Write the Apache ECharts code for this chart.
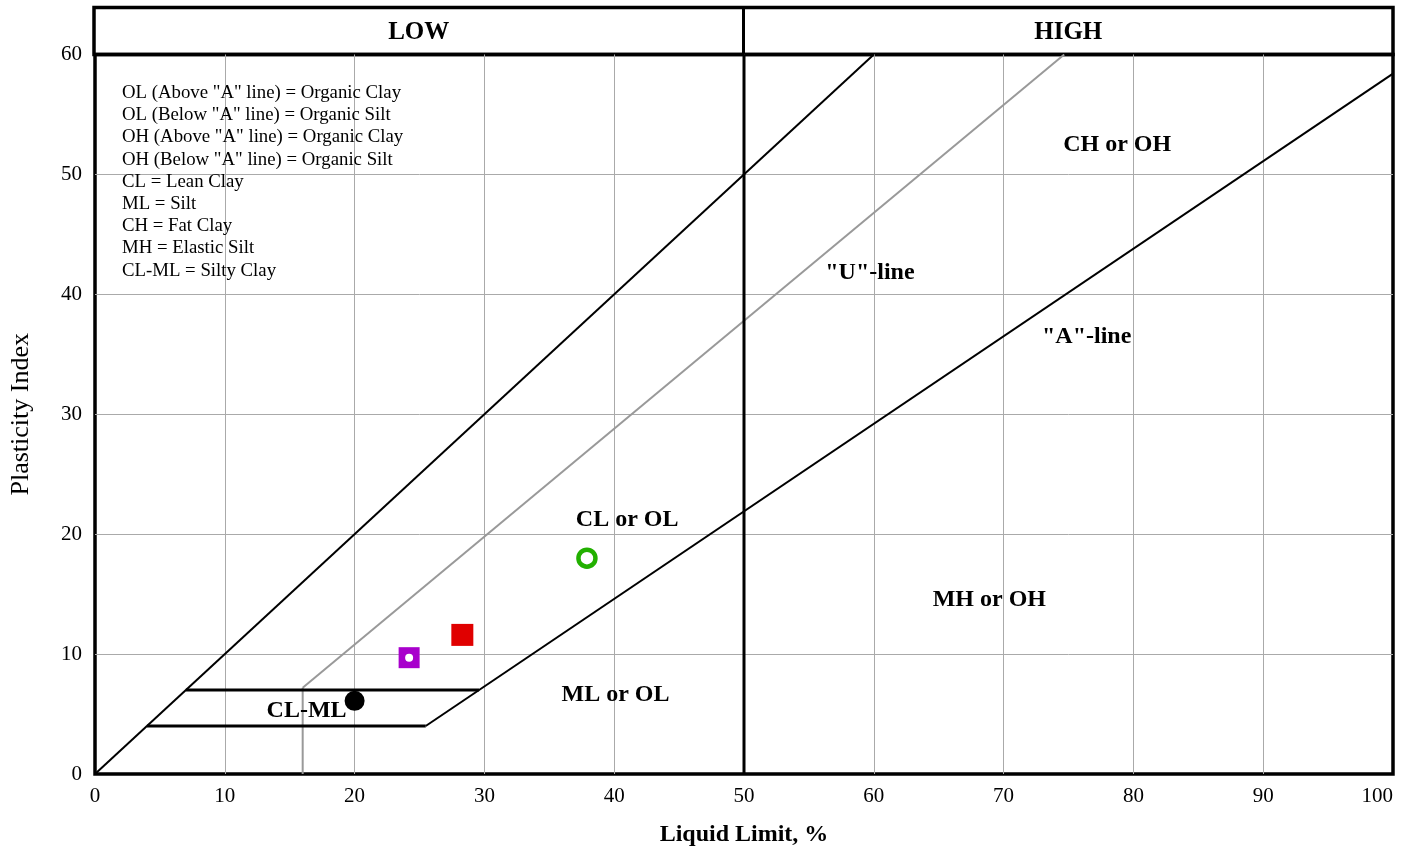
<!DOCTYPE html>
<html><head><meta charset="utf-8">
<script src="https://cdn.jsdelivr.net/npm/echarts@6/dist/echarts.min.js"></script>
<style>html,body{margin:0;padding:0;background:#fff}#c{width:1413px;height:852px}</style>
</head><body><div id="c"></div>
<script>
// ---- data ----
const xTicks = [0,10,20,30,40,50,60,70,80,90,100];
const yTicks = [0,10,20,30,40,50,60];
const bandLabels = ['LOW','HIGH'];
const bandCenters = [25,75];
const diagLine = [[0,0],[60,60]];
const uLine = [[16,7.2],[74.67,60]];
const uStem = [[16,0],[16,7.2]];
const aLine = [[25.48,4],[100,58.4]];
const clmlTop = [[7,7],[29.59,7]];
const clmlBottom = [[4,4],[25.48,4]];
const divider = [[50,0],[50,60]];
const regionNames = ['CL or OL','CH or OH','"U"-line','"A"-line','MH or OH','ML or OL','CL-ML'];
const regionPos = [[41.0,21.2],[78.75,52.5],[59.7,41.8],[76.4,36.5],[68.9,14.5],[40.1,6.6],[16.3,5.3]];
const sampleLL = [20.0, 24.2, 28.3, 37.9];
const samplePI = [6.1, 9.7, 11.6, 18.0];
const legendLines = [
 'OL (Above "A" line) = Organic Clay',
 'OL (Below "A" line) = Organic Silt',
 'OH (Above "A" line) = Organic Clay',
 'OH (Below "A" line) = Organic Silt',
 'CL = Lean Clay',
 'ML = Silt',
 'CH = Fat Clay',
 'MH = Elastic Silt',
 'CL-ML = Silty Clay'
];
// ---- chart ----
const FONT = '"Liberation Serif","DejaVu Serif",serif';
const chart = echarts.init(document.getElementById('c'));
function seg(data, color, width, xi){
  return {type:'line', data:data, xAxisIndex:xi||0, yAxisIndex:xi||0, symbol:'none', silent:true,
    lineStyle:{color:color, width:width}, z:3, animation:false};
}
const pt = (i)=>[[sampleLL[i], samplePI[i]]];
function sc(i, symbol, size, style, z){
  return {type:'scatter', data:pt(i), symbol:symbol, symbolSize:size, itemStyle:Object.assign({opacity:1}, style), z:z||5};
}
chart.setOption({
  animation:false,
  grid:[
    {left:94, right:20, top:54.5, bottom:75.5, show:true, borderColor:'#000', borderWidth:3.5},
    {left:94, right:20, top:7.5, height:47, show:true, borderColor:'#000', borderWidth:3.5}
  ],
  xAxis:[
    {type:'value', gridIndex:0, min:0, max:100, interval:10,
     axisLine:{show:false}, axisTick:{show:false},
     axisLabel:{color:'#000', fontFamily:FONT, fontSize:21, margin:12, alignMaxLabel:'right'},
     splitLine:{lineStyle:{color:'#aaa', width:1}, showMinLine:false, showMaxLine:false},
     name:'Liquid Limit, %', nameLocation:'middle', nameGap:49,
     nameTextStyle:{color:'#000', fontFamily:FONT, fontSize:24, fontWeight:'bold'}},
    {type:'value', gridIndex:1, min:0, max:100, show:false}
  ],
  yAxis:[
    {type:'value', gridIndex:0, min:0, max:60, interval:10,
     axisLine:{show:false}, axisTick:{show:false},
     axisLabel:{color:'#000', fontFamily:FONT, fontSize:21, margin:13},
     splitLine:{lineStyle:{color:'#aaa', width:1}, showMinLine:false, showMaxLine:false},
     name:'Plasticity Index', nameLocation:'middle', nameGap:61, nameRotate:90,
     nameTextStyle:{color:'#000', fontFamily:FONT, fontSize:26}},
    {type:'value', gridIndex:1, min:0, max:1, show:false}
  ],
  graphic:[{type:'text', left:122, top:82, z:10,
    style:{text:legendLines.join('\n'), font:'18.8px '+FONT, fill:'#000', lineHeight:22.2}}],
  series:[
    seg(diagLine,'#000',2),
    seg(uLine,'#999',2),
    seg(uStem,'#999',2),
    seg(aLine,'#000',2),
    seg(clmlTop,'#000',3),
    seg(clmlBottom,'#000',3),
    seg(divider,'#000',3),
    seg([[50,0],[50,1]],'#000',3,1),
    {type:'scatter', xAxisIndex:1, yAxisIndex:1, symbolSize:0, silent:true, itemStyle:{opacity:1},
     data:bandLabels.map((n,i)=>({name:n, value:[bandCenters[i],0.5]})),
     label:{show:true, position:'inside', offset:[0,2], formatter:'{b}', color:'#000', fontFamily:FONT, fontSize:25, fontWeight:'bold'}},
    {type:'scatter', symbolSize:0, silent:true, z:6, itemStyle:{opacity:1},
     data:regionNames.map((n,i)=>({name:n, value:regionPos[i]})),
     label:{show:true, position:'inside', formatter:'{b}', color:'#000', fontFamily:FONT, fontSize:24, fontWeight:'bold'}},
    sc(0,'circle',20,{color:'#000'}),
    sc(1,'rect',21,{color:'#a800cc'}),
    sc(1,'circle',8,{color:'#fff'},6),
    sc(2,'rect',22,{color:'#e00000'}),
    sc(3,'circle',17,{color:'#fff', borderColor:'#22b000', borderWidth:4.5})
  ]
});
</script></body></html>
